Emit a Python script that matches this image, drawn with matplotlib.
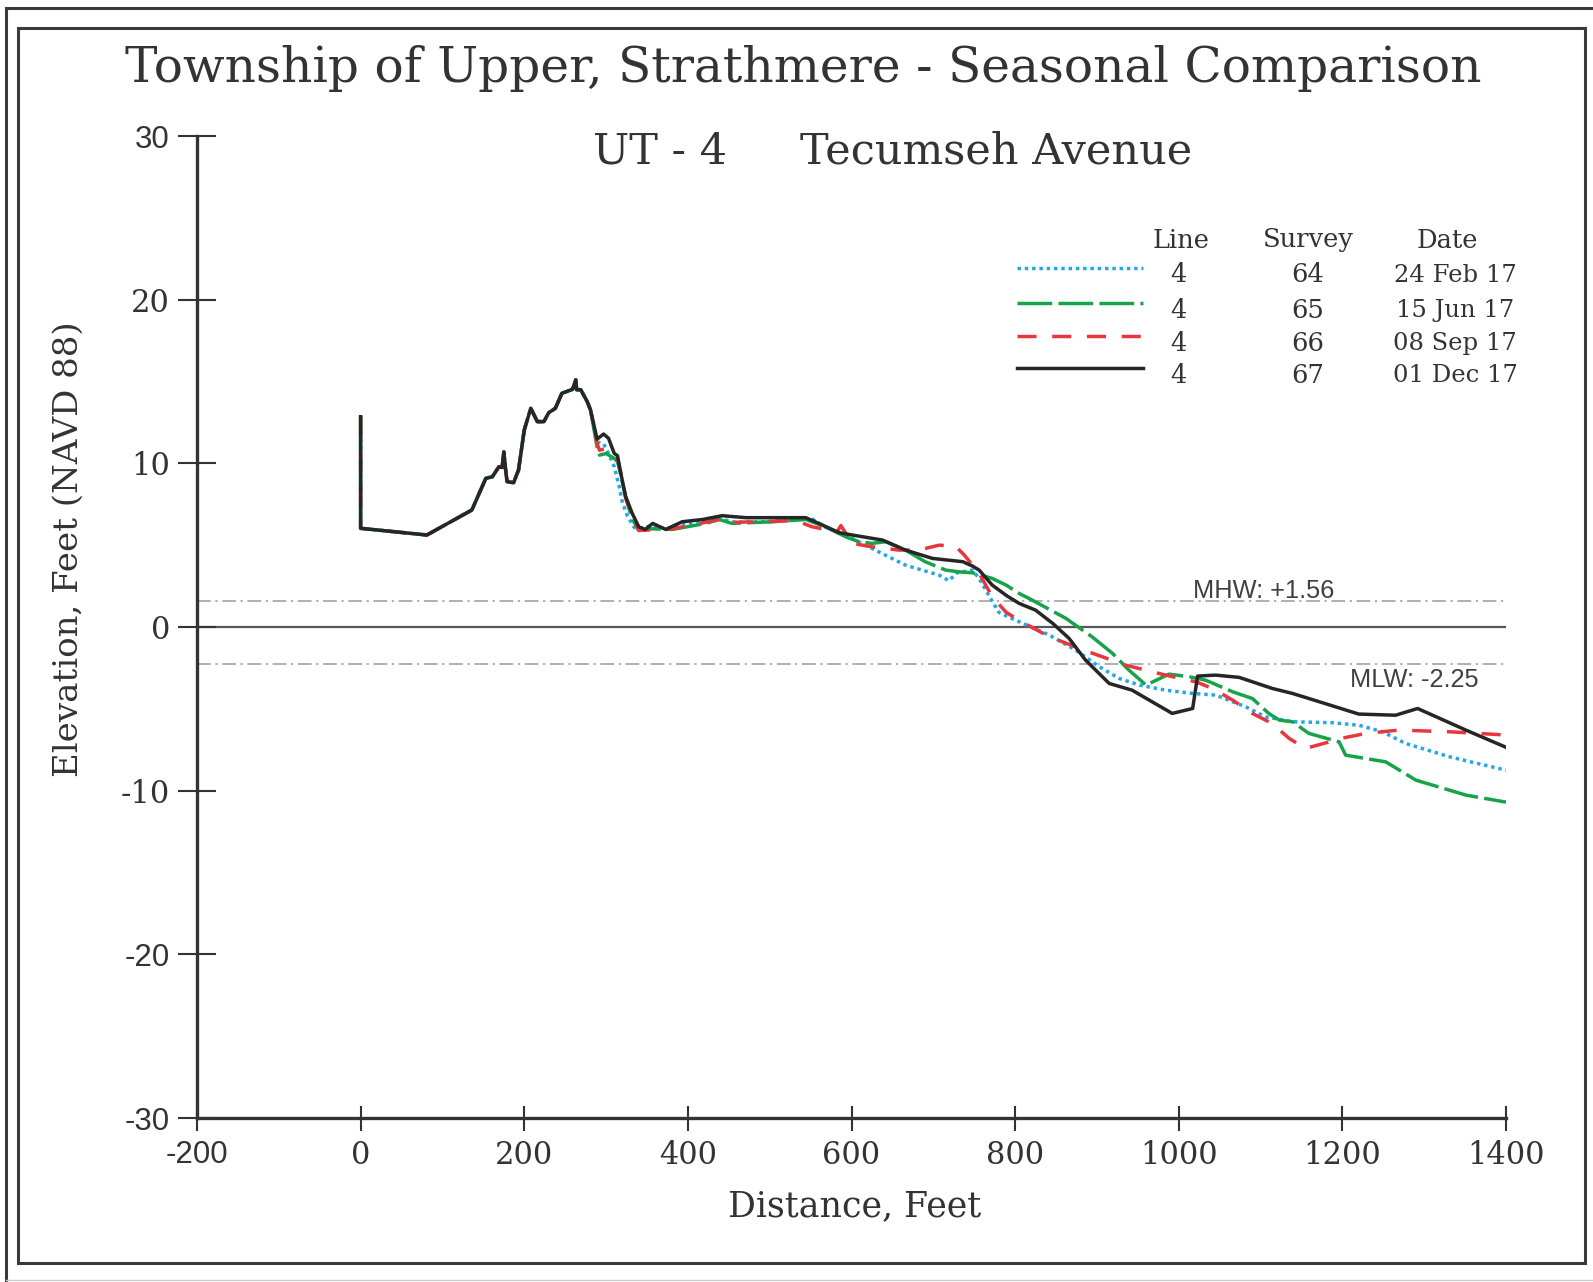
import matplotlib
matplotlib.use("Agg")
import matplotlib.pyplot as plt
from matplotlib.lines import Line2D
from matplotlib.patches import Rectangle

W, H = 1593, 1282
INK = "#333333"; GREY = "#555555"; LIGHT = "#9a9a9a"
BLUE = "#22a8e6"; GREEN = "#16a34a"; RED = "#e8363c"; BLACK = "#262626"
SERIF = "DejaVu Serif"; SANS = "Liberation Sans"

# --- profile data (distance ft, elevation ft NAVD88) ---
feb_x = [0, 0, 81, 136, 153, 161, 169, 173, 175, 177, 179, 187, 193, 200, 208, 216, 224, 230, 238, 246,
         259, 263, 264, 269, 277, 281, 289, 297, 303, 310, 316, 320, 326, 334, 340, 356, 373, 393, 420,
         440, 458, 503, 545, 552, 568, 593, 617, 633, 666, 707, 719, 729, 748, 756, 764, 780, 797, 805,
         842, 874, 903, 927, 952, 984, 1017, 1045, 1082, 1106, 1139, 1188, 1220, 1249, 1277, 1331, 1400]
feb_y = [12.85, 6.03, 5.62, 7.15, 9.08, 9.18, 9.79, 9.75, 10.7, 9.7, 8.88, 8.82, 9.59, 12.04, 13.36, 12.55,
         12.55, 13.1, 13.36, 14.28, 14.52, 15.1, 14.5, 14.5, 13.77, 13.26, 11.3, 11.2, 10.6, 9.8, 8.6, 7.6,
         6.8, 6.1, 6.0, 6.2, 6.0, 6.3, 6.4, 6.6, 6.4, 6.45, 6.6, 6.6, 6.1, 5.6, 5.0, 4.6, 3.78, 3.17, 2.83,
         3.31, 3.48, 2.97, 2.26, 0.9, 0.5, 0.32, -0.5, -1.41, -2.43, -3.14, -3.55, -3.86, -4.06, -4.16,
         -4.88, -5.49, -5.79, -5.85, -6.0, -6.4, -7.11, -7.93, -8.75]

jun_x = [0, 0, 81, 136, 153, 161, 169, 173, 175, 177, 179, 187, 193, 200, 208, 216, 224, 230, 238, 246,
         259, 263, 264, 269, 277, 281, 289, 292, 300, 310, 314, 318, 324, 332, 340, 356, 381, 422, 438,
         454, 503, 544, 568, 593, 609, 625, 642, 666, 690, 715, 731, 748, 772, 789, 805, 821, 862, 894,
         919, 939, 960, 988, 1013, 1033, 1066, 1090, 1110, 1123, 1139, 1159, 1196, 1204, 1253, 1290,
         1351, 1400]
jun_y = [12.85, 6.03, 5.62, 7.15, 9.08, 9.18, 9.79, 9.75, 10.7, 9.7, 8.88, 8.82, 9.59, 12.04, 13.36, 12.55,
         12.55, 13.1, 13.36, 14.28, 14.52, 15.1, 14.5, 14.5, 13.77, 13.26, 11.0, 10.5, 10.6, 10.3, 10.1,
         9.3, 7.9, 6.6, 5.9, 6.0, 5.96, 6.33, 6.57, 6.33, 6.43, 6.57, 6.12, 5.51, 5.21, 5.11, 5.21, 4.7,
         3.99, 3.48, 3.37, 3.31, 2.97, 2.56, 2.05, 1.64, 0.53, -0.6, -1.61, -2.63, -3.55, -2.88, -3.04,
         -3.25, -3.96, -4.37, -5.28, -5.69, -5.79, -6.5, -7.02, -7.83, -8.24, -9.36, -10.27, -10.7]

sep_x = [0, 0, 81, 136, 153, 161, 169, 173, 175, 177, 179, 187, 193, 200, 208, 216, 224, 230, 238, 246,
         259, 263, 264, 269, 277, 281, 289, 292, 300, 310, 314, 318, 324, 332, 340, 381, 422, 438, 458,
         503, 532, 552, 572, 581, 587, 601, 625, 658, 682, 707, 727, 738, 756, 772, 789, 805, 842, 895,
         935, 984, 1021, 1041, 1066, 1090, 1114, 1135, 1155, 1184, 1198, 1229, 1269, 1331, 1400]
sep_y = [12.85, 6.03, 5.62, 7.15, 9.08, 9.18, 9.79, 9.75, 10.7, 9.7, 8.88, 8.82, 9.59, 12.04, 13.36, 12.55,
         12.55, 13.1, 13.36, 14.28, 14.52, 15.1, 14.5, 14.5, 13.77, 13.26, 11.2, 10.8, 10.9, 10.5, 10.3,
         9.4, 7.9, 6.7, 5.9, 6.0, 6.4, 6.55, 6.4, 6.45, 6.5, 6.12, 5.92, 5.7, 6.2, 5.11, 4.9, 4.7, 4.7,
         5.0, 4.94, 4.39, 3.28, 1.85, 0.9, 0.4, -0.6, -1.61, -2.33, -2.94, -3.35, -3.75, -4.47, -5.28,
         -5.89, -6.81, -7.42, -7.02, -6.81, -6.5, -6.3, -6.4, -6.6]

dec_x = [0, 0, 81, 136, 153, 161, 169, 173, 175, 177, 179, 187, 193, 200, 208, 216, 224, 230, 238, 246,
         259, 263, 264, 269, 277, 281, 289, 297, 303, 310, 314, 318, 324, 332, 340, 348, 357, 373, 393,
         418, 442, 471, 544, 560, 585, 601, 638, 666, 699, 736, 748, 756, 772, 790, 805, 825, 846, 866,
         886, 915, 943, 964, 992, 1017, 1023, 1045, 1074, 1114, 1139, 1172, 1220, 1265, 1292, 1351, 1400]
dec_y = [12.85, 6.03, 5.62, 7.15, 9.08, 9.18, 9.79, 9.75, 10.7, 9.7, 8.88, 8.82, 9.59, 12.04, 13.36, 12.55,
         12.55, 13.1, 13.36, 14.28, 14.52, 15.1, 14.5, 14.5, 13.77, 13.26, 11.48, 11.79, 11.53, 10.61,
         10.46, 9.39, 7.96, 6.94, 6.12, 5.96, 6.33, 5.96, 6.43, 6.57, 6.8, 6.68, 6.68, 6.33, 5.76, 5.62,
         5.31, 4.7, 4.19, 3.99, 3.72, 3.48, 2.56, 1.9, 1.44, 1.03, 0.22, -0.7, -2.02, -3.45, -3.86, -4.47,
         -5.28, -4.98, -3.0, -2.94, -3.08, -3.75, -4.06, -4.57, -5.32, -5.39, -4.98, -6.3, -7.35]

MHW, MLW = 1.56, -2.25
x_ticks = [-200, 0, 200, 400, 600, 800, 1000, 1200, 1400]
y_ticks = [-30, -20, -10, 0, 10, 20, 30]
y_labels = ["-30", "-20", "-10", "0", "10", "20", "30"]

leg_line = ["4", "4", "4", "4"]
leg_survey = ["64", "65", "66", "67"]
leg_date = ["24 Feb 17", "15 Jun 17", "08 Sep 17", "01 Dec 17"]

series = [
    (feb_x, feb_y, BLUE, (0, (1, 1.1))),
    (jun_x, jun_y, GREEN, (0, (10, 1.8))),
    (sep_x, sep_y, RED, (0, (5.5, 4.5))),
    (dec_x, dec_y, BLACK, "-"),
]


def fx(px): return px / W
def fy(py): return 1 - py / H


fig = plt.figure(figsize=(W / 100, H / 100), dpi=100)
fig.patch.set_facecolor("white")

# page frames
fig.add_artist(Line2D([fx(6), fx(6)], [fy(8), fy(1282)], color="#3a3a3a", lw=2.2))
fig.add_artist(Line2D([fx(6), fx(1600)], [fy(8), fy(8)], color="#3a3a3a", lw=2.2))
fig.add_artist(Line2D([fx(6), fx(1593)], [fy(1280), fy(1280)], color="#cccccc", lw=1.0))
fig.add_artist(Rectangle((fx(18), fy(1263)), fx(1585) - fx(18), fy(28) - fy(1263),
                         fill=False, ec="#3a3a3a", lw=2.2, transform=fig.transFigure))

ax = fig.add_axes([fx(197), fy(1118), fx(1506) - fx(197), fy(136) - fy(1118)])
ax.set_xlim(-200, 1400)
ax.set_ylim(-30, 30)
for sp in ("top", "right"):
    ax.spines[sp].set_visible(False)
for sp in ("left", "bottom"):
    ax.spines[sp].set_color(INK)
    ax.spines[sp].set_linewidth(2.4)

ax.plot([-200, 1400], [0, 0], color=GREY, lw=1.6, zorder=1)
for lvl in (MHW, MLW):
    ax.plot([-200, 1400], [lvl, lvl], color=LIGHT, lw=1.1, ls=(0, (9, 3, 1.5, 3)), zorder=1)
ax.text(1104, 2.2, f"MHW: +{MHW:.2f}", ha="center", va="center", fontsize=18.3,
        family=SANS, color="#404040")
ax.text(1288, -3.25, f"MLW: {MLW:.2f}", ha="center", va="center", fontsize=18.3,
        family=SANS, color="#404040")

for xs, ys, c, ls in series:
    ax.plot(xs, ys, color=c, lw=2.5, ls=ls, zorder=3)

ax.set_xticks(x_ticks)
ax.set_xticklabels([str(v) for v in x_ticks])
ax.set_yticks(y_ticks)
ax.set_yticklabels(y_labels)
ax.tick_params(axis="x", direction="inout", length=18, width=1.5, color=INK, pad=7,
               labelsize=22, labelcolor=INK)
ax.tick_params(axis="y", direction="inout", length=27, width=1.5, color=INK, pad=6,
               labelsize=22, labelcolor=INK)
for lab in ax.get_xticklabels() + ax.get_yticklabels():
    lab.set_family(SANS if lab.get_text() in ("30", "-20", "-30", "-200") else SERIF)
    if lab.get_family()[0] == SANS:
        lab.set_fontsize(22.5)

# titles and axis labels
fig.text(fx(803), fy(69), "Township of Upper, Strathmere - Seasonal Comparison", ha="center",
         va="center", fontsize=35, family=SERIF, color=INK)
fig.text(fx(660), fy(152), "UT - 4", ha="center", va="center", fontsize=31, family=SERIF, color=INK)
fig.text(fx(996), fy(152), "Tecumseh Avenue", ha="center", va="center", fontsize=31,
         family=SERIF, color=INK)
fig.text(fx(855), fy(1206), "Distance, Feet", ha="center", va="center", fontsize=25,
         family=SERIF, color=INK)
fig.text(fx(69), fy(549), "Elevation, Feet (NAVD 88)", ha="center", va="center", rotation=90,
         fontsize=24.5, family=SERIF, color=INK)

# legend table
LEG_FS = 18.5
for txt, x in (("Line", 1181), ("Survey", 1308), ("Date", 1447)):
    fig.text(fx(x), fy(240), txt, ha="center", va="center", fontsize=LEG_FS, family=SERIF, color=INK)
line_y = [268, 303, 336, 368]
text_y = [275, 311, 343, 376]
for (xs, ys, c, ls), ly, ty, ln, sv, dt in zip(series, line_y, text_y, leg_line, leg_survey, leg_date):
    fig.add_artist(Line2D([fx(1017), fx(1143)], [fy(ly), fy(ly)], color=c, lw=2.5, ls=ls))
    fig.text(fx(1178), fy(ty), ln, ha="center", va="center", fontsize=LEG_FS, family=SERIF, color=INK)
    fig.text(fx(1308), fy(ty), sv, ha="center", va="center", fontsize=LEG_FS, family=SERIF, color=INK)
    fig.text(fx(1455), fy(ty), dt, ha="center", va="center", fontsize=17.5, family=SERIF, color=INK)

fig.savefig("out.png", dpi=100, facecolor="white")
